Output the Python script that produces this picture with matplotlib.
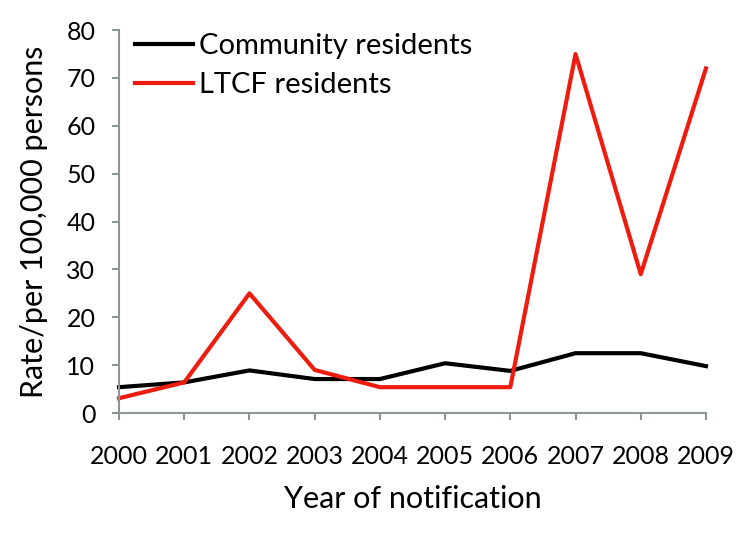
import matplotlib.pyplot as plt

years = ["2000", "2001", "2002", "2003", "2004", "2005", "2006", "2007", "2008", "2009"]
community = [5.4, 6.4, 8.9, 7.1, 7.1, 10.4, 8.8, 12.5, 12.5, 9.8]
ltcf = [3.1, 6.4, 25.0, 9.0, 5.4, 5.4, 5.4, 75.0, 29.0, 72.0]
y_ticks = [0, 10, 20, 30, 40, 50, 60, 70, 80]

plt.rcParams["font.family"] = ["Lato", "DejaVu Sans"]

fig = plt.figure(figsize=(7.5, 5.38), dpi=100)
ax = fig.add_axes([0.1587, 0.2323, 0.7826, 0.7117])

x = list(range(len(years)))
ax.plot(x, community, color="black", lw=3, label="Community residents", clip_on=False)
ax.plot(x, ltcf, color="#ee1c0e", lw=3, label="LTCF residents", clip_on=False)

ax.set_xlim(0, len(years) - 1)
ax.set_ylim(0, 80)
ax.set_xticks(x)
ax.set_xticklabels(years)
ax.set_yticks(y_ticks)

for side in ["top", "right"]:
    ax.spines[side].set_visible(False)
for side in ["left", "bottom"]:
    ax.spines[side].set_color("#8c9696")
    ax.spines[side].set_linewidth(1.5)
ax.tick_params(colors="#8c9696", width=1.5, length=5, labelsize=18, labelcolor="black")
ax.tick_params(axis="y", pad=12)
ax.tick_params(axis="x", pad=18)

ax.set_xlabel("Year of notification", fontsize=22, labelpad=12)
ax.set_ylabel("Rate/per 100,000 persons", fontsize=22, labelpad=13)

ax.legend(loc="upper left", frameon=False, fontsize=21, handlelength=2.0,
          handletextpad=0.2, borderpad=0, borderaxespad=0, labelspacing=0.45,
          bbox_to_anchor=(0.027, 0.992))

fig.savefig("out.png", dpi=100)
